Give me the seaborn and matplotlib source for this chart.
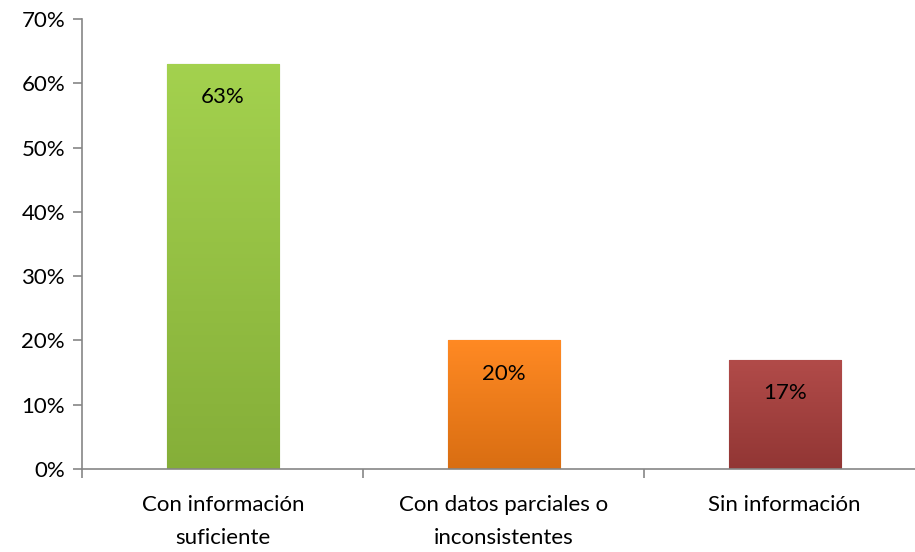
import numpy as np
import pandas as pd
import matplotlib
matplotlib.use("Agg")
import matplotlib.pyplot as plt
import matplotlib.colors as mcolors
import seaborn as sns

# data
categories = ["Con información\nsuficiente", "Con datos parciales o\ninconsistentes", "Sin información"]
values = [63, 20, 17]
labels = ["63%", "20%", "17%"]
colors = ["#94C23F", "#F17A14", "#A23C3A"]

sns.set_style("white")
plt.rcParams["font.family"] = ["Lato", "DejaVu Sans"]

df = pd.DataFrame({"cat": categories, "val": values})

fig = plt.figure(figsize=(9.15, 5.52), dpi=100)
ax = fig.add_axes([0.0901, 0.1504, 0.921, 0.8152])

sns.barplot(data=df, x="cat", y="val", hue="cat", palette=colors, width=0.40,
            legend=False, ax=ax, edgecolor="none", saturation=1)

# soft vertical gradient on each bar, Excel-like
for patch, c in zip(ax.patches, colors):
    x0, y0 = patch.get_x(), patch.get_y()
    w, h = patch.get_width(), patch.get_height()
    base = np.array(mcolors.to_rgb(c))
    light = np.clip(base + 0.06, 0, 1)
    dark = base * 0.9
    grad = np.linspace(0, 1, 100)[:, None]
    img = light[None, None, :] * (1 - grad[:, :, None]) + dark[None, None, :] * grad[:, :, None]
    img = np.repeat(img, 2, axis=1)
    im = ax.imshow(img, extent=[x0, x0 + w, y0, y0 + h], origin="upper",
                   aspect="auto", zorder=patch.get_zorder() + 0.1)
    im.set_clip_path(patch)
    patch.set_edgecolor(dark * 0.8)
    patch.set_linewidth(0.8)

for i, (v, t) in enumerate(zip(values, labels)):
    ax.annotate(t, (i, v), xytext=(0, -24), textcoords="offset points",
                ha="center", va="center", fontsize=16, color="black", zorder=5)

ax.set_xlim(-0.5, 2.5)
ax.set_ylim(0, 70)
ax.set_yticks(range(0, 71, 10))
ax.set_yticklabels([f"{t}%" for t in range(0, 71, 10)])
ax.set_xlabel("")
ax.set_ylabel("")
for lab in ax.get_xticklabels():
    lab.set_linespacing(1.8)

sns.despine(ax=ax, top=True, right=True)
for s in ["left", "bottom"]:
    ax.spines[s].set_color("#868686")
    ax.spines[s].set_linewidth(1.2)

ax.tick_params(axis="y", which="major", length=6.5, width=1.2, color="#868686",
               direction="out", labelsize=16, labelcolor="black", pad=6, left=True)
ax.tick_params(axis="x", which="major", length=0, labelsize=16, labelcolor="black", pad=19)
ax.set_xticks([-0.5, 0.5, 1.5, 2.5], minor=True)
ax.tick_params(axis="x", which="minor", length=6.5, width=1.2, color="#868686",
               direction="out", bottom=True)

fig.savefig("out.png", dpi=100)
